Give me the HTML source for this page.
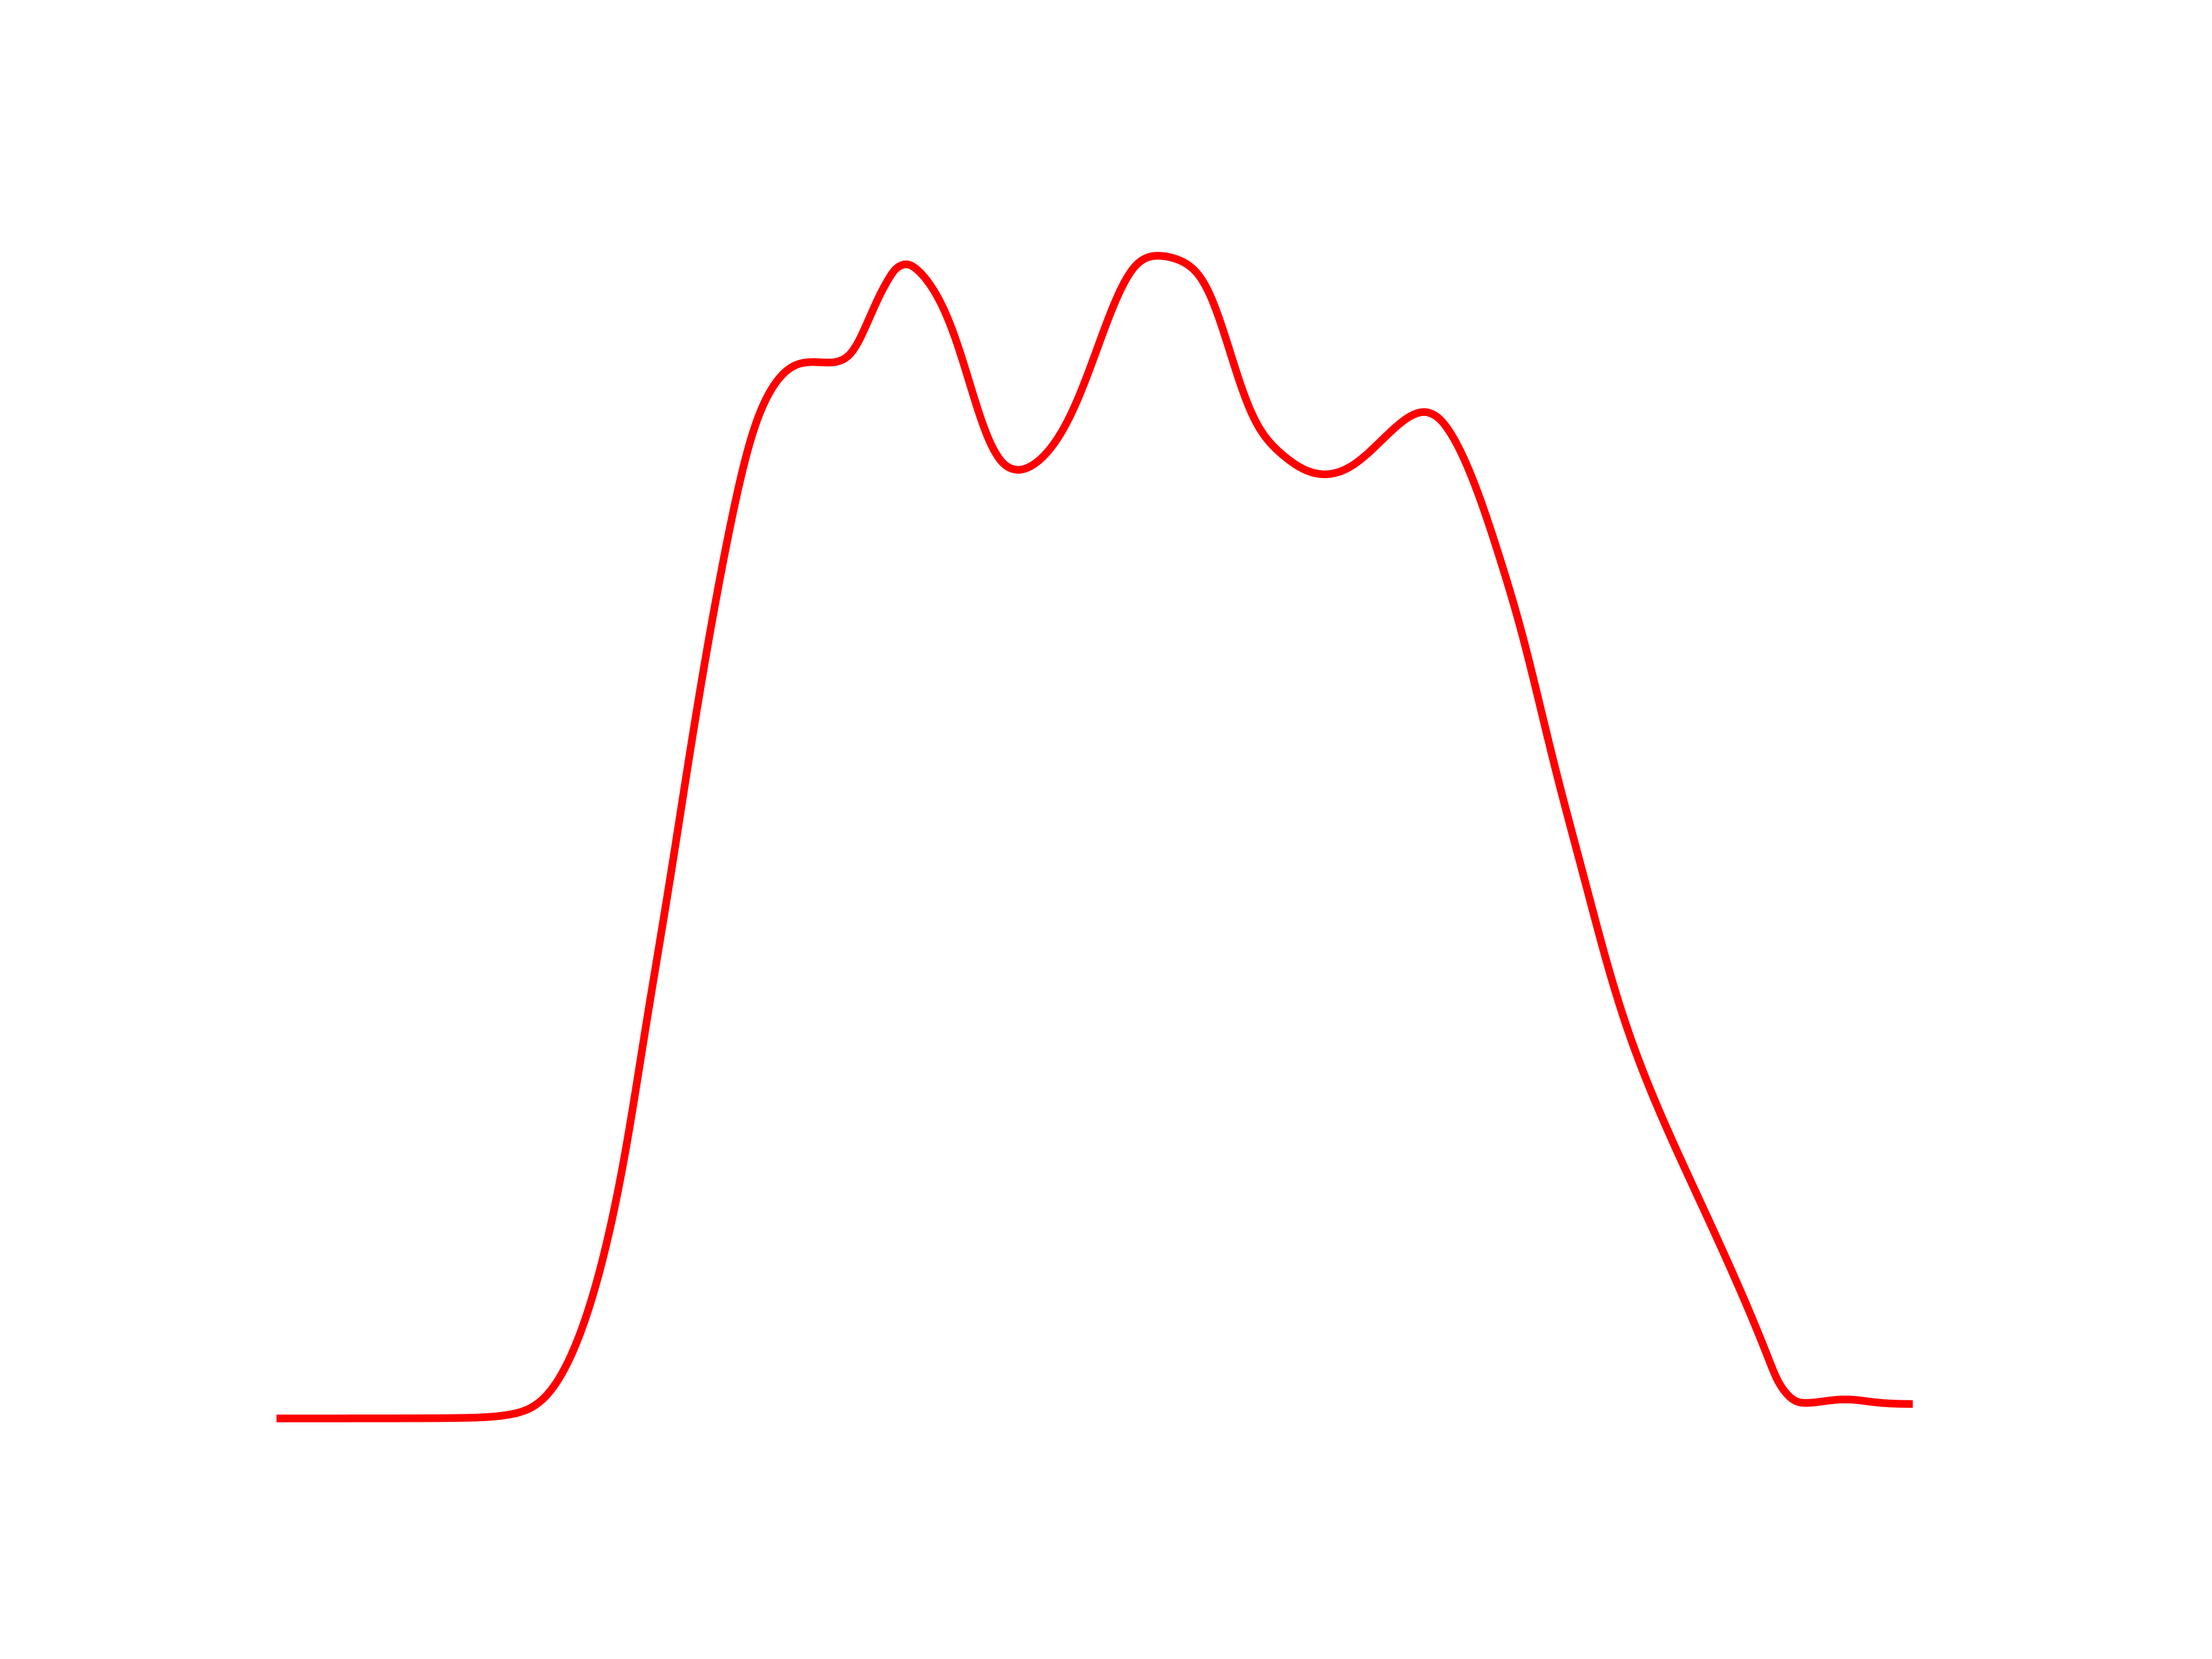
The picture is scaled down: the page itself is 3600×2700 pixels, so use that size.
<!DOCTYPE html>
<html lang="en">
<head>
<meta charset="utf-8">
<title>Red line chart</title>
<style>
html,body{margin:0;padding:0;background:#fff;width:3600px;height:2700px;overflow:hidden}
svg{display:block}
</style>
</head>
<body>
<svg id="chart" xmlns="http://www.w3.org/2000/svg" width="3600" height="2700" viewBox="0 0 3600 2700">
<rect x="0" y="0" width="3600" height="2700" fill="#ffffff"/>
<g id="plot"></g>
</svg>
<script>
const xValues = [0,150,250,290,330,360,380,398,416,435,457,483,508,530,549,567,580,593,607,621,635,648,661,674,688,702,717,733,752,767,783,800,817,833,850,870,890,910,927,940,953,967,983,1000,1013,1025,1040,1057,1073,1090,1107,1123,1140,1157,1173,1190,1208,1227,1247,1267,1287,1303,1320,1337,1353,1370,1387,1403,1420,1437,1457,1477,1495,1510,1527,1543,1560,1577,1593,1610,1627,1647,1660,1683,1708,1733,1757,1780,1803,1827,1850,1868,1887,1903,1920,1937,1953,1970,1987,2003,2018,2033,2053,2073,2093,2109,2130,2153,2177,2200,2227,2268,2292,2333,2373,2400,2423,2432,2440,2448,2457,2465,2473,2482,2490,2505,2520,2535,2550,2567,2583,2600,2617,2640,2663];
const yValues = [0,0,0.5,0.8,2,4,7,12,21,35,60,108.5,175.5,258.5,341.5,425.5,508.5,591.5,675.5,758.5,841.5,925.5,1008.5,1091.5,1175.5,1258.5,1341.5,1425.5,1511.5,1578.5,1628.5,1661.5,1690.5,1706.5,1716.5,1720.5,1718.5,1718.5,1725.5,1740.5,1765.5,1795.5,1831.5,1861.5,1873.5,1876.5,1871.5,1853.5,1828.5,1796.5,1755.5,1701.5,1645.5,1598.5,1565.5,1550.5,1545.5,1550.5,1565.5,1588.5,1621.5,1658.5,1698.5,1743.5,1788.5,1828.5,1861.5,1881.5,1889.5,1890,1887.5,1881.5,1866.5,1846.5,1811.5,1765.5,1708.5,1658.5,1623.5,1595.5,1580,1563.5,1552.5,1539.5,1535.5,1541.5,1555.5,1573.5,1596.5,1618.5,1633.5,1637.5,1631.5,1613.5,1586.5,1551.5,1511.5,1465.5,1411.5,1358.5,1308.5,1258.5,1175.5,1088.5,1005.5,958.5,875.5,785.5,701.5,628.5,558.5,458.5,408.5,318.5,231.5,168.5,108.5,88.5,68.5,53.5,41.5,33.5,28.5,26,25.5,26,28,30,31.5,30.5,28.5,26.5,24.5,23.7,23.5];

function xScale(v) {
  const left = 450, right = 3113, dMin = 0, dMax = 2663;
  return left + (v - dMin) / (dMax - dMin) * (right - left);
}
function yScale(v) {
  const bottom = 2308.5, top = 418.5, dMin = 0, dMax = 1890;
  return bottom - (v - dMin) / (dMax - dMin) * (bottom - top);
}
function denoise(f) {
  let cur = f.slice();
  const pass = function (w) {
    const next = cur.slice();
    for (let i = 1; i < cur.length - 1; i++) {
      next[i] = cur[i] + w * ((cur[i - 1] + cur[i + 1]) / 2 - cur[i]);
    }
    cur = next;
  };
  for (let n = 0; n < 8; n++) {
    pass(0.5);
    pass(-0.52);
  }
  return cur;
}
function secondDerivatives(t, f) {
  const n = t.length;
  const a = new Array(n).fill(0), b = new Array(n).fill(1), c = new Array(n).fill(0), r = new Array(n).fill(0);
  for (let i = 1; i < n - 1; i++) {
    a[i] = (t[i] - t[i - 1]) / 6;
    b[i] = (t[i + 1] - t[i - 1]) / 3;
    c[i] = (t[i + 1] - t[i]) / 6;
    r[i] = (f[i + 1] - f[i]) / (t[i + 1] - t[i]) - (f[i] - f[i - 1]) / (t[i] - t[i - 1]);
  }
  for (let i = 1; i < n; i++) {
    const m = a[i] / b[i - 1];
    b[i] -= m * c[i - 1];
    r[i] -= m * r[i - 1];
  }
  const s = new Array(n).fill(0);
  s[n - 1] = r[n - 1] / b[n - 1];
  for (let i = n - 2; i >= 0; i--) {
    s[i] = (r[i] - c[i] * s[i + 1]) / b[i];
  }
  return s;
}
function buildPath(xs, ys) {
  const px = denoise(xs.map(xScale));
  const py = denoise(ys.map(yScale));
  const t = [0];
  for (let i = 1; i < px.length; i++) {
    t.push(t[i - 1] + Math.hypot(px[i] - px[i - 1], py[i] - py[i - 1]));
  }
  const sx = secondDerivatives(t, px);
  const sy = secondDerivatives(t, py);
  function at(f, s, i, u) {
    const h = t[i + 1] - t[i];
    const A = (t[i + 1] - u) / h, B = (u - t[i]) / h;
    return A * f[i] + B * f[i + 1] + ((A * A * A - A) * s[i] + (B * B * B - B) * s[i + 1]) * h * h / 6;
  }
  let d = 'M' + px[0].toFixed(2) + ' ' + py[0].toFixed(2);
  for (let i = 0; i < px.length - 1; i++) {
    const steps = 10;
    for (let k = 1; k <= steps; k++) {
      const u = t[i] + (t[i + 1] - t[i]) * k / steps;
      d += 'L' + at(px, sx, i, u).toFixed(2) + ' ' + at(py, sy, i, u).toFixed(2);
    }
  }
  return d;
}
const line = document.createElementNS('http://www.w3.org/2000/svg', 'path');


line.setAttribute('d', buildPath(xValues, yValues));
line.setAttribute('fill', 'none');
line.setAttribute('stroke', '#ff0000');
line.setAttribute('stroke-width', '12.5');
line.setAttribute('stroke-linecap', 'butt');
line.setAttribute('stroke-linejoin', 'round');
document.getElementById('plot').appendChild(line);
</script>
</body>
</html>
